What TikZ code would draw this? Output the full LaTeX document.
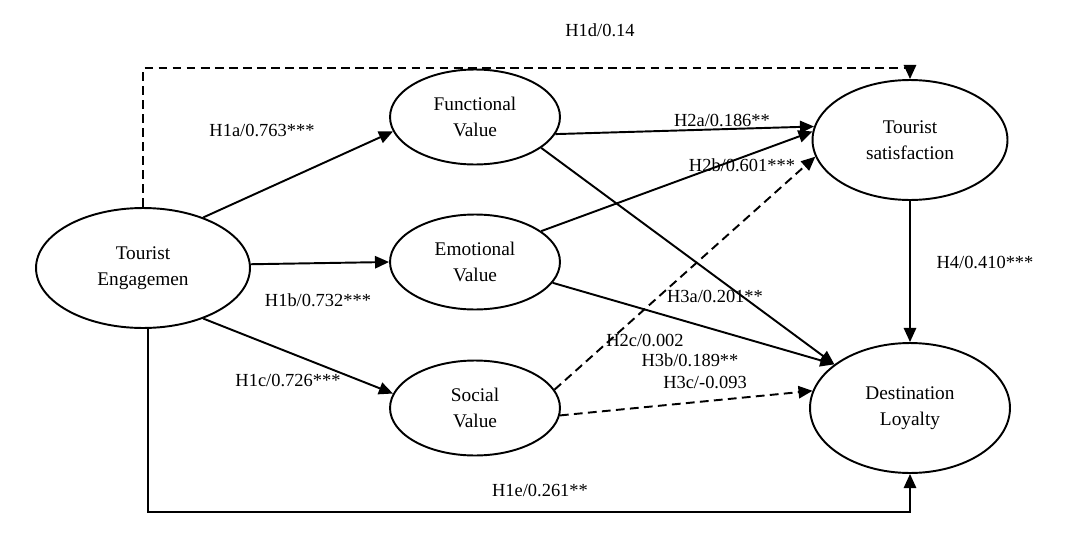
\documentclass[tikz,border=0pt]{standalone}
\usepackage{fontspec}
\setmainfont{Liberation Serif}
\usetikzlibrary{shapes.geometric,arrows.meta}
\begin{document}
\begin{tikzpicture}[x=0.02cm,y=-0.02cm,
  el/.style={ellipse,draw,line width=1.1pt,align=center,font=\fontsize{11}{15}\selectfont,inner sep=0pt},
  ar/.style={-{Triangle[length=8pt,width=7pt]},line width=1.1pt},
  da/.style={ar,dash pattern=on 5pt off 3pt},
  lb/.style={font=\fontsize{10.5}{12}\selectfont,inner sep=1pt}]
\useasboundingbox (0,0) rectangle (1085,541);
\node[el,minimum width=4.28cm,minimum height=2.4cm] (TE) at (143,268) {Tourist\\Engagemen};
\node[el,minimum width=3.4cm,minimum height=1.9cm] (FV) at (475,117) {Functional\\Value};
\node[el,minimum width=3.4cm,minimum height=1.9cm] (EV) at (475,262) {Emotional\\Value};
\node[el,minimum width=3.4cm,minimum height=1.9cm] (SV) at (475,408) {Social\\Value};
\node[el,minimum width=3.9cm,minimum height=2.4cm] (TS) at (910,140) {Tourist\\satisfaction};
\node[el,minimum width=4cm,minimum height=2.6cm] (DL) at (910,408) {Destination\\Loyalty};
\coordinate (c1) at (143,68); \coordinate (c2) at (910,68);
\coordinate (c3) at (148,512); \coordinate (c4) at (910,512);
\draw[da] (TE.north) -- (c1) -- (c2) -- (TS.north);
\draw[ar] (TE.south) ++(5,0) coordinate (tb) (tb) -- (c3) -- (c4) -- (DL.south);
\draw[ar] (TE.40) -- (FV.190);
\draw[ar] (TE.2) -- (EV.west);
\draw[ar] (TE.-40) -- (SV.170);
\draw[ar] (FV.-12) -- (TS.172);
\draw[ar] (EV.25) -- (TS.175);
\draw[da] (SV.13) -- (TS.190);
\draw[ar] (FV.-25) -- (DL.150);
\draw[ar] (EV.-15) -- (DL.150);
\draw[da] (SV.-5) -- (DL.170);
\draw[ar] (TS.south) -- (DL.north);
\node[lb] at (600,30) {H1d/0.14};
\node[lb] at (262,130) {H1a/0.763***};
\node[lb] at (318,300) {H1b/0.732***};
\node[lb] at (288,380) {H1c/0.726***};
\node[lb] at (722,120) {H2a/0.186**};
\node[lb] at (742,165) {H2b/0.601***};
\node[lb] at (715,296) {H3a/0.201**};
\node[lb] at (645,340) {H2c/0.002};
\node[lb] at (690,360) {H3b/0.189**};
\node[lb] at (705,382) {H3c/-0.093};
\node[lb] at (985,262) {H4/0.410***};
\node[lb] at (540,490) {H1e/0.261**};
\end{tikzpicture}
\end{document}
